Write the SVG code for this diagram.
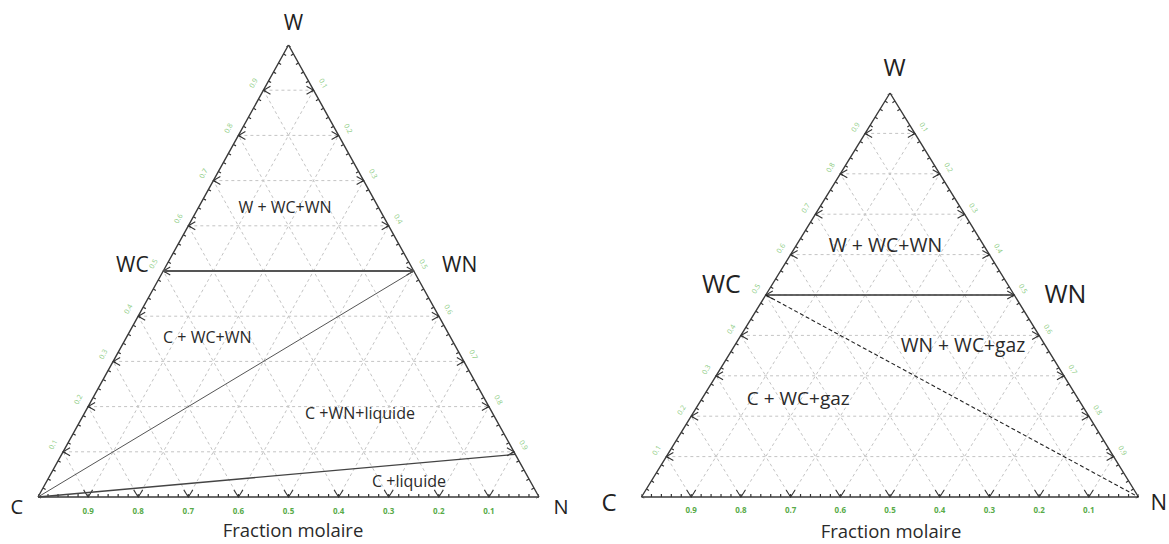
<svg xmlns="http://www.w3.org/2000/svg" width="1169" height="544" viewBox="0 0 1169 544">
<style>
.bg{fill:#ffffff}
.grid line{stroke:#c4c4c4;stroke-width:1;stroke-dasharray:3 3;fill:none}
.edge{fill:none;stroke:#3a3a3a;stroke-width:1.4;stroke-linejoin:miter}
.minor{stroke:#333;stroke-width:3;fill:none}
.lbl{font-family:"Open Sans","Liberation Sans",sans-serif;fill:#222}
.reg{font-family:"Open Sans","Liberation Sans",sans-serif;fill:#2a2a2a;text-anchor:middle}
.tb{font-family:"Open Sans","Liberation Sans",sans-serif;font-size:8px;font-weight:bold;fill:#58ab48;text-anchor:middle}
.ts{font-family:"Open Sans","Liberation Sans",sans-serif;font-size:7px;fill:#8acb80;text-anchor:middle;dominant-baseline:central}
</style>
<defs>
<marker id="mV" markerUnits="userSpaceOnUse" markerWidth="20" markerHeight="20" refX="0" refY="0" orient="0" overflow="visible"><path d="M-4.5,-7 L0,0 L4.5,-7" fill="none" stroke="#333" stroke-width="1.1"/></marker>
<marker id="mL" markerUnits="userSpaceOnUse" markerWidth="20" markerHeight="20" refX="0" refY="0" orient="0" overflow="visible"><path d="M7,-4 L0,0 L7,4" fill="none" stroke="#333" stroke-width="1.1"/></marker>
<marker id="mR" markerUnits="userSpaceOnUse" markerWidth="20" markerHeight="20" refX="0" refY="0" orient="0" overflow="visible"><path d="M-7,-4 L0,0 L-7,4" fill="none" stroke="#333" stroke-width="1.1"/></marker>
</defs>
<rect class="bg" x="0" y="0" width="1169" height="544"/>

<!-- LEFT DIAGRAM -->
<g id="left-diagram">
<g id="left-grid" class="grid">
<line x1="63.05" y1="451.8" x2="513.95" y2="451.8"/>
<line x1="88.1" y1="406.6" x2="488.9" y2="406.6"/>
<line x1="113.15" y1="361.4" x2="463.85" y2="361.4"/>
<line x1="138.2" y1="316.2" x2="438.8" y2="316.2"/>
<line x1="163.25" y1="271" x2="413.75" y2="271"/>
<line x1="188.3" y1="225.8" x2="388.7" y2="225.8"/>
<line x1="213.35" y1="180.6" x2="363.65" y2="180.6"/>
<line x1="238.4" y1="135.4" x2="338.6" y2="135.4"/>
<line x1="263.45" y1="90.2" x2="313.55" y2="90.2"/>
<line x1="88.1" y1="497" x2="313.55" y2="90.2"/>
<line x1="138.2" y1="497" x2="338.6" y2="135.4"/>
<line x1="188.3" y1="497" x2="363.65" y2="180.6"/>
<line x1="238.4" y1="497" x2="388.7" y2="225.8"/>
<line x1="288.5" y1="497" x2="413.75" y2="271"/>
<line x1="338.6" y1="497" x2="438.8" y2="316.2"/>
<line x1="388.7" y1="497" x2="463.85" y2="361.4"/>
<line x1="438.8" y1="497" x2="488.9" y2="406.6"/>
<line x1="488.9" y1="497" x2="513.95" y2="451.8"/>
<line x1="488.9" y1="497" x2="263.45" y2="90.2"/>
<line x1="438.8" y1="497" x2="238.4" y2="135.4"/>
<line x1="388.7" y1="497" x2="213.35" y2="180.6"/>
<line x1="338.6" y1="497" x2="188.3" y2="225.8"/>
<line x1="288.5" y1="497" x2="163.25" y2="271"/>
<line x1="238.4" y1="497" x2="138.2" y2="316.2"/>
<line x1="188.3" y1="497" x2="113.15" y2="361.4"/>
<line x1="138.2" y1="497" x2="88.1" y2="406.6"/>
<line x1="88.1" y1="497" x2="63.05" y2="451.8"/>
</g>
<g id="left-frame">
<line class="minor" x1="38" y1="495.5" x2="539" y2="495.5" stroke-dasharray="1.2 8.82" stroke-dashoffset="0.6"/>
<line class="minor" x1="39.31" y1="497.73" x2="289.81" y2="45.73" stroke-dasharray="1.2 9.136" stroke-dashoffset="0.6"/>
<line class="minor" x1="287.19" y1="45.73" x2="537.69" y2="497.73" stroke-dasharray="1.2 9.136" stroke-dashoffset="0.6"/>
<polyline class="edge" marker-mid="url(#mV)" points="38,497 88.1,497 138.2,497 188.3,497 238.4,497 288.5,497 338.6,497 388.7,497 438.8,497 488.9,497 539,497"/>
<polyline class="edge" marker-mid="url(#mL)" points="38,497 63.05,451.8 88.1,406.6 113.15,361.4 138.2,316.2 163.25,271 188.3,225.8 213.35,180.6 238.4,135.4 263.45,90.2 288.5,45"/>
<polyline class="edge" marker-mid="url(#mR)" points="288.5,45 313.55,90.2 338.6,135.4 363.65,180.6 388.7,225.8 413.75,271 438.8,316.2 463.85,361.4 488.9,406.6 513.95,451.8 539,497"/>
</g>
<g id="left-ticklabels">
<text class="tb" x="88.1" y="514">0.9</text>
<text class="tb" x="138.2" y="514">0.8</text>
<text class="tb" x="188.3" y="514">0.7</text>
<text class="tb" x="238.4" y="514">0.6</text>
<text class="tb" x="288.5" y="514">0.5</text>
<text class="tb" x="338.6" y="514">0.4</text>
<text class="tb" x="388.7" y="514">0.3</text>
<text class="tb" x="438.8" y="514">0.2</text>
<text class="tb" x="488.9" y="514">0.1</text>
<text class="ts" transform="translate(53.05,444.6) rotate(-61)">0.1</text>
<text class="ts" transform="translate(78.1,399.4) rotate(-61)">0.2</text>
<text class="ts" transform="translate(103.15,354.2) rotate(-61)">0.3</text>
<text class="ts" transform="translate(128.2,309) rotate(-61)">0.4</text>
<text class="ts" transform="translate(153.25,263.8) rotate(-61)">0.5</text>
<text class="ts" transform="translate(178.3,218.6) rotate(-61)">0.6</text>
<text class="ts" transform="translate(203.35,173.4) rotate(-61)">0.7</text>
<text class="ts" transform="translate(228.4,128.2) rotate(-61)">0.8</text>
<text class="ts" transform="translate(253.45,83) rotate(-61)">0.9</text>
<text class="ts" transform="translate(323.25,83.4) rotate(61)">0.1</text>
<text class="ts" transform="translate(348.3,128.6) rotate(61)">0.2</text>
<text class="ts" transform="translate(373.35,173.8) rotate(61)">0.3</text>
<text class="ts" transform="translate(398.4,219) rotate(61)">0.4</text>
<text class="ts" transform="translate(423.45,264.2) rotate(61)">0.5</text>
<text class="ts" transform="translate(448.5,309.4) rotate(61)">0.6</text>
<text class="ts" transform="translate(473.55,354.6) rotate(61)">0.7</text>
<text class="ts" transform="translate(498.6,399.8) rotate(61)">0.8</text>
<text class="ts" transform="translate(523.65,445) rotate(61)">0.9</text>
</g>
<g id="left-phase-lines">
<line x1="163.25" y1="271" x2="413.75" y2="271" stroke="#555" stroke-width="2"/>
<line x1="38" y1="497" x2="413.75" y2="271" stroke="#555" stroke-width="1"/>
<line x1="38" y1="497" x2="515.5" y2="454.3" stroke="#444" stroke-width="1.3"/>
</g>
<g id="left-vertices">
<text id="L-W" class="lbl" x="293.5" y="30" font-size="21" text-anchor="middle">W</text>
<text id="L-WC" class="lbl" x="116" y="272" font-size="21">WC</text>
<text id="L-WN" class="lbl" x="442" y="272" font-size="21">WN</text>
<text id="L-C" class="lbl" x="10.5" y="514" font-size="20">C</text>
<text id="L-N" class="lbl" x="553.5" y="514" font-size="20">N</text>
</g>
<g id="left-regions">
<text class="reg" x="285" y="213.3" font-size="16">W + WC+WN</text>
<text class="reg" x="207.3" y="342.7" font-size="16">C + WC+WN</text>
<text class="reg" x="360" y="418.5" font-size="16">C +WN+liquide</text>
<text class="reg" x="409" y="486.7" font-size="16">C +liquide</text>
</g>
<text id="left-axis-title" class="reg" x="293" y="537" font-size="18.5">Fraction molaire</text>
</g>

<!-- RIGHT DIAGRAM -->
<g id="right-diagram">
<g id="right-grid" class="grid">
<line x1="666.35" y1="456.6" x2="1113.65" y2="456.6"/>
<line x1="691.2" y1="416.2" x2="1088.8" y2="416.2"/>
<line x1="716.05" y1="375.8" x2="1063.95" y2="375.8"/>
<line x1="740.9" y1="335.4" x2="1039.1" y2="335.4"/>
<line x1="765.75" y1="295" x2="1014.25" y2="295"/>
<line x1="790.6" y1="254.6" x2="989.4" y2="254.6"/>
<line x1="815.45" y1="214.2" x2="964.55" y2="214.2"/>
<line x1="840.3" y1="173.8" x2="939.7" y2="173.8"/>
<line x1="865.15" y1="133.4" x2="914.85" y2="133.4"/>
<line x1="691.2" y1="497" x2="914.85" y2="133.4"/>
<line x1="740.9" y1="497" x2="939.7" y2="173.8"/>
<line x1="790.6" y1="497" x2="964.55" y2="214.2"/>
<line x1="840.3" y1="497" x2="989.4" y2="254.6"/>
<line x1="890" y1="497" x2="1014.25" y2="295"/>
<line x1="939.7" y1="497" x2="1039.1" y2="335.4"/>
<line x1="989.4" y1="497" x2="1063.95" y2="375.8"/>
<line x1="1039.1" y1="497" x2="1088.8" y2="416.2"/>
<line x1="1088.8" y1="497" x2="1113.65" y2="456.6"/>
<line x1="1088.8" y1="497" x2="865.15" y2="133.4"/>
<line x1="1039.1" y1="497" x2="840.3" y2="173.8"/>
<line x1="989.4" y1="497" x2="815.45" y2="214.2"/>
<line x1="939.7" y1="497" x2="790.6" y2="254.6"/>
<line x1="890" y1="497" x2="765.75" y2="295"/>
<line x1="840.3" y1="497" x2="740.9" y2="335.4"/>
<line x1="790.6" y1="497" x2="716.05" y2="375.8"/>
<line x1="740.9" y1="497" x2="691.2" y2="416.2"/>
<line x1="691.2" y1="497" x2="666.35" y2="456.6"/>
</g>
<g id="right-frame">
<line class="minor" x1="641.5" y1="495.5" x2="1138.5" y2="495.5" stroke-dasharray="1.2 8.74" stroke-dashoffset="0.6"/>
<line class="minor" x1="642.78" y1="497.79" x2="891.28" y2="93.79" stroke-dasharray="1.2 8.286" stroke-dashoffset="0.6"/>
<line class="minor" x1="888.72" y1="93.79" x2="1137.22" y2="497.79" stroke-dasharray="1.2 8.286" stroke-dashoffset="0.6"/>
<polyline class="edge" marker-mid="url(#mV)" points="641.5,497 691.2,497 740.9,497 790.6,497 840.3,497 890,497 939.7,497 989.4,497 1039.1,497 1088.8,497 1138.5,497"/>
<polyline class="edge" marker-mid="url(#mL)" points="641.5,497 666.35,456.6 691.2,416.2 716.05,375.8 740.9,335.4 765.75,295 790.6,254.6 815.45,214.2 840.3,173.8 865.15,133.4 890,93"/>
<polyline class="edge" marker-mid="url(#mR)" points="890,93 914.85,133.4 939.7,173.8 964.55,214.2 989.4,254.6 1014.25,295 1039.1,335.4 1063.95,375.8 1088.8,416.2 1113.65,456.6 1138.5,497"/>
</g>
<g id="right-ticklabels">
<text class="tb" x="691.2" y="513">0.9</text>
<text class="tb" x="740.9" y="513">0.8</text>
<text class="tb" x="790.6" y="513">0.7</text>
<text class="tb" x="840.3" y="513">0.6</text>
<text class="tb" x="890" y="513">0.5</text>
<text class="tb" x="939.7" y="513">0.4</text>
<text class="tb" x="989.4" y="513">0.3</text>
<text class="tb" x="1039.1" y="513">0.2</text>
<text class="tb" x="1088.8" y="513">0.1</text>
<text class="ts" transform="translate(656.55,450.3) rotate(-58.4)">0.1</text>
<text class="ts" transform="translate(681.4,409.9) rotate(-58.4)">0.2</text>
<text class="ts" transform="translate(706.25,369.5) rotate(-58.4)">0.3</text>
<text class="ts" transform="translate(731.1,329.1) rotate(-58.4)">0.4</text>
<text class="ts" transform="translate(755.95,288.7) rotate(-58.4)">0.5</text>
<text class="ts" transform="translate(780.8,248.3) rotate(-58.4)">0.6</text>
<text class="ts" transform="translate(805.65,207.9) rotate(-58.4)">0.7</text>
<text class="ts" transform="translate(830.5,167.5) rotate(-58.4)">0.8</text>
<text class="ts" transform="translate(855.35,127.1) rotate(-58.4)">0.9</text>
<text class="ts" transform="translate(923.85,127.1) rotate(58.4)">0.1</text>
<text class="ts" transform="translate(948.7,167.5) rotate(58.4)">0.2</text>
<text class="ts" transform="translate(973.55,207.9) rotate(58.4)">0.3</text>
<text class="ts" transform="translate(998.4,248.3) rotate(58.4)">0.4</text>
<text class="ts" transform="translate(1023.25,288.7) rotate(58.4)">0.5</text>
<text class="ts" transform="translate(1048.1,329.1) rotate(58.4)">0.6</text>
<text class="ts" transform="translate(1072.95,369.5) rotate(58.4)">0.7</text>
<text class="ts" transform="translate(1097.8,409.9) rotate(58.4)">0.8</text>
<text class="ts" transform="translate(1122.65,450.3) rotate(58.4)">0.9</text>
</g>
<g id="right-phase-lines">
<line x1="765.75" y1="295" x2="1014.25" y2="295" stroke="#333" stroke-width="1.3"/>
<line x1="765.75" y1="295" x2="1138.5" y2="497" stroke="#222" stroke-width="1.1" stroke-dasharray="4 2.5"/>
</g>
<g id="right-vertices">
<text id="R-W" class="lbl" x="894.5" y="76" font-size="24" text-anchor="middle">W</text>
<text id="R-WC" class="lbl" x="702" y="293" font-size="25">WC</text>
<text id="R-WN" class="lbl" x="1044.5" y="303" font-size="25">WN</text>
<text id="R-C" class="lbl" x="601.5" y="511" font-size="24">C</text>
<text id="R-N" class="lbl" x="1167" y="510" font-size="22" text-anchor="end">N</text>
</g>
<g id="right-regions">
<text class="reg" x="885.5" y="251.7" font-size="19.5">W + WC+WN</text>
<text class="reg" x="963" y="351.7" font-size="19.3">WN + WC+gaz</text>
<text class="reg" x="798.3" y="405" font-size="19">C + WC+gaz</text>
</g>
<text id="right-axis-title" class="reg" x="891" y="537.5" font-size="18.5">Fraction molaire</text>
</g>
</svg>
